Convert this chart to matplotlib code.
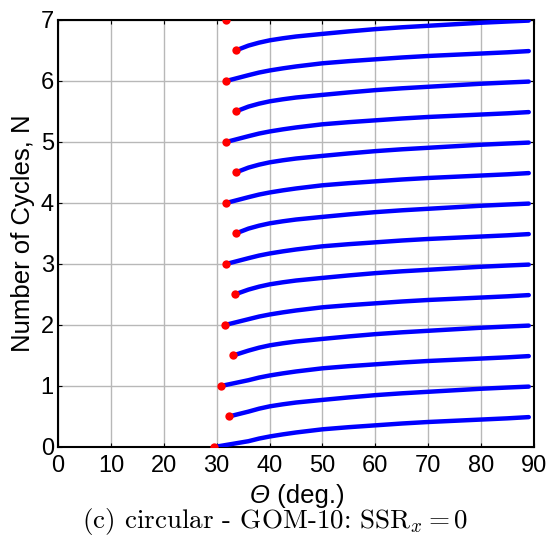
import numpy as np
import matplotlib as mpl
mpl.use('Agg')
import matplotlib.pyplot as plt

# half-cycle branches: level where each branch starts and the angle it starts at
n_int   = [0., 1., 2., 3., 4., 5., 6., 7.]
th_int  = [29.5, 30.8, 31.6, 31.8, 31.8, 31.8, 31.8, 31.8]
n_half  = [0.5, 1.5, 2.5, 3.5, 4.5, 5.5, 6.5]
th_half = [32.3, 33.1, 33.4, 33.6, 33.6, 33.6, 33.6]

# rise of N above the branch start along the branch
prof_th   = [36., 38., 40., 42.5, 45., 50., 55., 60., 65., 70., 75., 80., 85., 89.]
rise_int  = [0.095, 0.138, 0.172, 0.207, 0.238, 0.29, 0.325, 0.355, 0.385, 0.41, 0.43, 0.45, 0.47, 0.49]
rise_half = [0.08, 0.128, 0.166, 0.20, 0.229, 0.272, 0.313, 0.35, 0.38, 0.405, 0.43, 0.455, 0.475, 0.49]

xticks = np.arange(0, 91, 10)
yticks = np.arange(0, 8, 1)

mpl.rcParams.update({'font.family': ['Liberation Sans', 'DejaVu Sans'],
                     'xtick.direction': 'in', 'ytick.direction': 'in',
                     'xtick.top': True, 'ytick.right': True,
                     'xtick.major.size': 3, 'ytick.major.size': 3})

fig = plt.figure(figsize=(5.5, 5.37), dpi=100, facecolor='w')
ax = fig.add_axes([0.1055, 0.1676, 0.8655, 0.7952])

def branch(n0, th0, rise):
    th = [th0] + [t for t in prof_th if t > th0 + 1.5]
    nn = [n0] + [n0 + r for t, r in zip(prof_th, rise) if t > th0 + 1.5]
    return th, nn

for n0, th0 in zip(n_int, th_int):
    if n0 + 0.5 <= yticks[-1]:
        th, nn = branch(n0, th0, rise_int)
        ax.plot(th, nn, '-', color='#0000ff', lw=3.2, solid_capstyle='round', zorder=3)
    ax.plot(th0, n0, 'o', color='#ff0000', ms=6, mec='none', zorder=5)

for n0, th0 in zip(n_half, th_half):
    th, nn = branch(n0, th0, rise_half)
    ax.plot(th, nn, '-', color='#0000ff', lw=3.2, solid_capstyle='round', zorder=3)
    ax.plot(th0, n0, 'o', color='#ff0000', ms=6, mec='none', zorder=5)

ax.set_xlim(0, 90)
ax.set_ylim(0, 7)
ax.set_xticks(xticks)
ax.set_yticks(yticks)
ax.grid(color='0.72', linestyle='-', linewidth=1.0)
ax.set_axisbelow(True)
for sp in ax.spines.values():
    sp.set_linewidth(1.5)
ax.tick_params(axis='x', labelsize=17, pad=6)
ax.tick_params(axis='y', labelsize=17, pad=3)

# x label: italic Theta followed by upright unit text
xs = 0.445 ; ylab = -0.115
ax.text(xs, ylab, '\u0398', style='italic', fontsize=18.5, transform=ax.transAxes,
        ha='right', va='center')
ax.text(xs, ylab, ' (deg.)', fontsize=18.5, transform=ax.transAxes,
        ha='left', va='center')
ax.set_ylabel('Number of Cycles, N', fontsize=18.5, labelpad=4)

fig.text(0.5, 0.0, r'(c) circular - GOM-10: SSR$_x = 0$', family='cmr10',
         math_fontfamily='cm', fontsize=19.5, ha='center', va='bottom')

plt.savefig('out.png', dpi=100, facecolor='w')
